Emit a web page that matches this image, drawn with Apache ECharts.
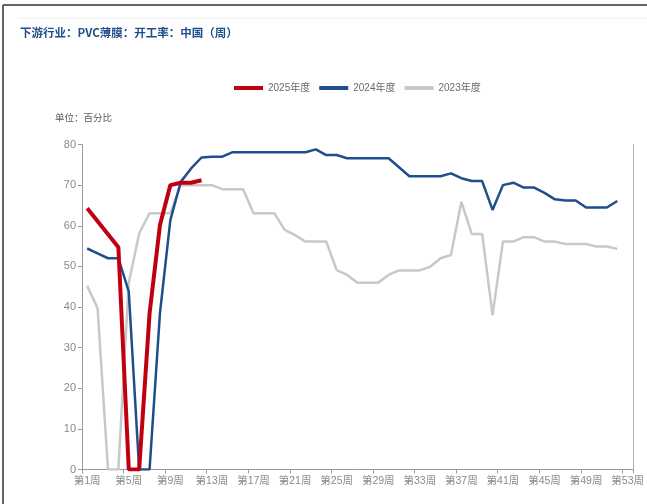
<!DOCTYPE html>
<html>
<head>
<meta charset="utf-8">
<script src="https://cdn.jsdelivr.net/npm/echarts@6/dist/echarts.min.js"></script>
<style>
html,body{margin:0;padding:0;background:#fff;}
#c{width:647px;height:504px;}
</style>
</head>
<body>
<div id="c"></div>
<script>
const weeks = [];
for (let i = 1; i <= 53; i++) weeks.push('第' + i + '周');

const s2025 = [64.3, 61.1, 57.9, 54.7, 0, 0, 38.4, 60.2, 70.0, 70.6, 70.6, 71.2];

const s2024 = [54.4, 53.2, 52.0, 52.0, 43.8, 0, 0, 38.5, 61.4, 70.8, 74.1, 76.8, 77.0, 77.0, 78.1,
  78.1, 78.1, 78.1, 78.1, 78.1, 78.1, 78.1, 78.8, 77.4, 77.4, 76.6, 76.6, 76.6, 76.6, 76.6,
  74.4, 72.2, 72.2, 72.2, 72.2, 72.9, 71.7, 71.0, 71.0, 63.9, 70.0, 70.6, 69.4, 69.4, 68.1,
  66.5, 66.2, 66.2, 64.5, 64.5, 64.5, 66.1, null];

const s2023 = [45.2, 39.7, 0, 0, 46.0, 58.1, 63.1, 63.1, 63.1, 70.0, 70.0, 70.0, 70.0, 69.0, 69.0,
  69.0, 63.1, 63.1, 63.1, 59.0, 57.7, 56.1, 56.1, 56.1, 49.1, 47.9, 46.0, 46.0, 46.0, 47.9,
  49.0, 49.0, 49.0, 49.9, 52.0, 52.8, 65.9, 58.0, 58.0, 38.0, 56.1, 56.1, 57.2, 57.2, 56.1,
  56.1, 55.5, 55.5, 55.5, 54.9, 54.9, 54.3, null];

const yTicks = [0, 10, 20, 30, 40, 50, 60, 70, 80];

const chart = echarts.init(document.getElementById('c'), null, {renderer: 'canvas'});
const narrow = "'Liberation Sans Narrow', 'Liberation Sans', 'Noto Sans CJK SC', sans-serif";

chart.setOption({
  animation: false,
  backgroundColor: '#ffffff',
  title: {
    text: '下游行业：PVC薄膜：开工率：中国（周）',
    left: 15, top: 22,
    textStyle: {fontSize: 11.5, fontWeight: 'bold', color: '#1f4e8c', fontFamily: "'Noto Sans CJK SC', sans-serif"}
  },
  legend: {
    left: 229, top: 78,
    itemWidth: 29, itemHeight: 4, itemGap: 9,
    icon: 'rect',
    textStyle: {fontSize: 10, color: '#6b6b6b', fontFamily: narrow},
    data: ['2025年度', '2024年度', '2023年度']
  },
  graphic: [
    {type: 'text', left: 55, top: 113, style: {text: '单位：百分比', fontSize: 9.5, fill: '#595959', fontFamily: "'Noto Sans CJK SC', sans-serif"}},
    {type: 'line', shape: {x1: 3, y1: 5, x2: 647, y2: 5}, style: {stroke: '#333', lineWidth: 1.5}},
    {type: 'line', shape: {x1: 3, y1: 5, x2: 3, y2: 504}, style: {stroke: '#333', lineWidth: 1.5}},
    {type: 'line', shape: {x1: 18, y1: 18, x2: 647, y2: 18}, style: {stroke: '#f3f3f3', lineWidth: 1.5}}
  ],
  grid: {left: 82, right: 13, top: 144.5, bottom: 34.5, show: false},
  xAxis: {
    type: 'category',
    data: weeks,
    boundaryGap: true,
    axisLine: {lineStyle: {color: '#9a9a9a', width: 1}},
    axisTick: {show: true, interval: 3, length: 4, lineStyle: {color: '#9a9a9a'}},
    axisLabel: {interval: 3, color: '#8a8a8a', fontSize: 10.5, fontFamily: narrow, margin: 6}
  },
  yAxis: [{
    type: 'value',
    min: 0, max: 80, interval: 10,
    axisLine: {show: true, lineStyle: {color: '#9a9a9a', width: 1}},
    axisTick: {show: true, length: 4, lineStyle: {color: '#9a9a9a'}},
    axisLabel: {color: '#8a8a8a', fontSize: 11, fontFamily: narrow, margin: 6},
    splitLine: {show: false}
  }, {
    type: 'value', position: 'right',
    min: 0, max: 80, interval: 10,
    axisLine: {show: true, lineStyle: {color: '#b0b0b0', width: 1}},
    axisTick: {show: false}, axisLabel: {show: false}, splitLine: {show: false}
  }],
  series: [
    {name: '2023年度', type: 'line', data: s2023, symbol: 'none', z: 2,
      itemStyle: {color: '#c8c8c8'}, lineStyle: {color: '#c8c8c8', width: 2.5}},
    {name: '2024年度', type: 'line', data: s2024, symbol: 'none', z: 3,
      itemStyle: {color: '#1f4e8c'}, lineStyle: {color: '#1f4e8c', width: 2.5}},
    {name: '2025年度', type: 'line', data: s2025, symbol: 'none', z: 4,
      itemStyle: {color: '#c00010'}, lineStyle: {color: '#c00010', width: 4}}
  ]
});
</script>
</body>
</html>
